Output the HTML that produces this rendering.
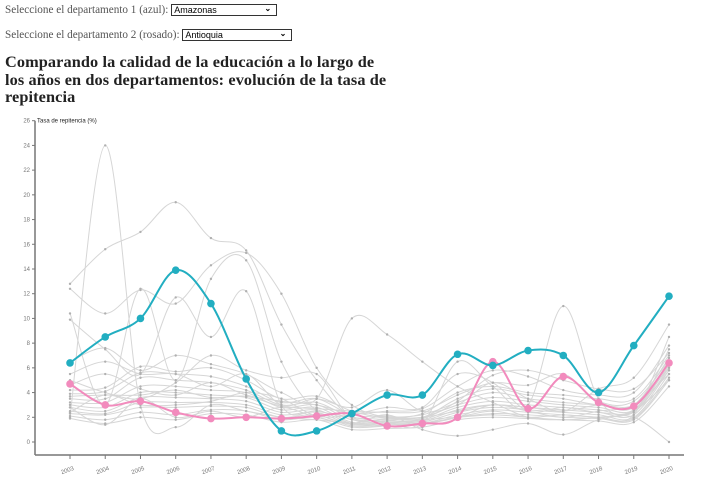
<!DOCTYPE html>
<html><head><meta charset="utf-8">
<style>
body{margin:0;width:702px;height:489px;background:#fff;overflow:hidden;position:relative;font-family:"Liberation Serif",serif;}
.lbl{position:absolute;left:5px;font-size:11.2px;color:#555;white-space:nowrap}
.sel{display:inline-block;vertical-align:middle;border:1px solid #333;height:10px;font:9px "Liberation Sans",sans-serif;color:#000;position:relative;line-height:10px;padding-left:2px;box-sizing:content-box}
.sel span.ar{position:absolute;right:5px;top:-1px;font-size:8px;font-weight:bold}
h1{position:absolute;left:5px;top:53px;margin:0;font-size:16.3px;line-height:17.5px;font-weight:bold;color:#222;white-space:nowrap;letter-spacing:0.1px}
svg{position:absolute;left:0;top:0}
</style></head><body>
<div class="lbl" style="top:4px">Seleccione el departamento 1 (azul): <span class="sel" style="width:102px">Amazonas<span class="ar">&#8964;</span></span></div>
<div class="lbl" style="top:29px">Seleccione el departamento 2 (rosado): <span class="sel" style="width:106px">Antioquia<span class="ar">&#8964;</span></span></div>
<h1>Comparando la calidad de la educación a lo largo de<br>los años en dos departamentos: evolución de la tasa de<br>repitencia</h1>
<svg id="chart" width="702" height="489"></svg>
<script>
const years=[2003,2004,2005,2006,2007,2008,2009,2010,2011,2012,2013,2014,2015,2016,2017,2018,2019,2020];
const yTicks=[0,2,4,6,8,10,12,14,16,18,20,22,24,26];
const blueValues=[6.4,8.5,10,13.9,11.2,5.1,0.9,0.9,2.3,3.8,3.8,7.1,6.2,7.4,7.0,4.0,7.8,11.8];
const pinkValues=[4.7,3.0,3.3,2.4,1.9,2.0,1.9,2.1,2.3,1.3,1.5,2.0,6.5,2.7,5.3,3.2,2.9,6.4];
const g1=[12.8,15.6,17.0,19.4,16.5,15.5,9.5,5.0,2.0,1.8,1.5,2.0,3.0,2.5,2.0,2.5,3.0,5.5];
const g2=[2.0,24.0,3.0,1.2,3.0,2.5,2.0,1.8,1.5,1.5,1.8,2.0,2.2,2.0,1.8,2.0,2.5,5.0];
const g3=[12.4,10.4,12.3,11.2,14.3,15.3,12.0,6.0,3.0,2.0,2.0,2.5,3.0,2.8,2.5,3.0,3.0,6.0];
const g4=[9.9,7.5,5.5,11.7,8.5,12.2,3.0,2.5,2.0,1.6,1.5,6.5,4.5,3.0,11.0,3.5,2.5,7.5];
const g5=[10.4,3.0,12.4,5.0,13.2,14.7,6.5,2.5,1.5,1.3,1.5,2.0,2.5,2.0,2.2,2.0,2.2,8.5];
const g6=[6.5,7.6,5.8,7.0,6.3,5.5,4.0,3.5,10.0,8.7,6.5,4.5,3.2,2.0,1.8,2.0,2.5,5.8];
const g7=[5.5,6.5,5.5,5.5,4.5,5.5,3.0,3.5,2.8,4.2,2.5,3.0,4.8,3.5,2.5,4.3,5.2,9.5];
const g8=[4.2,4.4,6.1,5.7,6.0,5.0,3.5,3.7,2.5,2.0,2.3,4.0,4.5,4.0,3.8,3.5,3.5,7.0];
const g9=[3.9,4.1,5.6,5.5,5.3,4.5,3.2,3.5,2.2,2.1,2.0,3.5,4.3,3.8,3.5,3.0,3.0,6.8];
const g10=[3.5,3.5,5.2,5.0,4.8,4.2,3.0,3.2,2.0,2.0,2.2,3.2,4.0,3.5,3.2,3.0,2.8,6.5];
const g11=[3.2,3.2,4.5,4.5,4.2,4.0,2.8,3.0,1.8,1.8,2.0,3.0,3.6,3.3,3.0,2.8,2.6,6.2];
const g12=[3.0,2.8,4.0,4.0,3.8,3.6,2.6,2.8,1.6,1.7,1.8,2.8,3.3,3.0,2.8,2.6,2.4,6.0];
const g13=[2.8,2.5,3.6,3.6,3.5,3.3,2.4,2.6,1.5,1.6,1.7,2.6,3.0,2.8,2.6,2.4,2.2,5.8];
const g14=[2.5,2.3,3.2,3.2,3.2,3.0,2.2,2.4,1.4,1.5,1.6,2.4,2.8,2.6,2.4,2.2,2.0,5.5];
const g15=[2.3,2.2,2.8,2.8,2.9,2.8,2.0,2.2,1.3,1.4,1.5,2.2,2.6,2.4,2.2,2.0,1.9,5.2];
const g16=[2.1,1.8,2.4,2.2,2.6,2.5,1.8,2.0,1.2,1.3,1.4,2.0,2.3,2.2,2.0,1.9,1.8,5.0];
const g17=[1.9,1.5,2.0,1.8,2.3,2.2,1.6,1.8,1.0,1.1,1.2,1.8,2.0,1.9,1.8,1.7,1.6,4.5];
const g18=[4.6,5.5,4.3,3.8,4.8,3.8,3.3,3.0,2.3,2.5,2.7,4.5,5.8,5.3,4.2,3.8,4.0,7.8];
const g19=[2.8,1.4,3.5,2.0,2.5,2.0,2.8,2.0,1.5,2.2,1.0,0.5,1.0,1.5,0.6,1.8,2.0,0.0];
const g20=[3.7,3.8,3.8,4.2,3.6,3.7,2.9,2.7,2.5,2.4,2.5,3.8,4.8,4.6,5.5,3.3,3.3,6.6];
const g21=[5.0,4.0,3.5,4.8,7.0,5.8,5.2,5.5,1.9,1.9,1.9,3.3,5.4,5.8,5.0,4.3,4.3,7.2];
const g22=[2.4,3.8,3.0,3.0,3.3,4.0,3.5,2.1,2.2,2.8,2.8,5.5,4.8,2.5,2.8,2.4,2.6,6.4];
const grayValues=[g1,g2,g3,g4,g5,g6,g7,g8,g9,g10,g11,g12,g13,g14,g15,g16,g17,g18,g19,g20,g21,g22];

const NS="http://www.w3.org/2000/svg";
const svg=document.getElementById('chart');
const x0=70,x1=669,yZero=442,yTop=120.7;
function xs(i){return x0+(x1-x0)*(years[i]-years[0])/(years[years.length-1]-years[0]);}
function ys(v){return yZero-(yZero-yTop)*v/26;}
function mk(tag,attrs){const e=document.createElementNS(NS,tag);for(const k in attrs)e.setAttribute(k,attrs[k]);svg.appendChild(e);return e;}
function pathFor(vals){
  const p=vals.map((v,i)=>[xs(i),ys(v)]);
  let d='M'+p[0][0]+','+p[0][1];
  for(let i=0;i<p.length-1;i++){
    const a=p[Math.max(i-1,0)],b=p[i],c=p[i+1],e=p[Math.min(i+2,p.length-1)];
    const c1=[b[0]+(c[0]-a[0])/6,b[1]+(c[1]-a[1])/6],c2=[c[0]-(e[0]-b[0])/6,c[1]-(e[1]-b[1])/6];
    d+=' C'+c1+' '+c2+' '+c;
  }
  return d;
}
const ya=mk('line',{x1:35,x2:35,y1:yTop,y2:455,stroke:'#777','stroke-width':1.5});


yTicks.forEach(t=>{
  const l=mk('line',{x1:32,x2:35,y1:ys(t),y2:ys(t),stroke:'#777'});
  
  
  const tx=mk('text',{x:30,y:ys(t)+2,'text-anchor':'end','font-size':'6px','font-family':'Liberation Sans,sans-serif',fill:'#777'});
  tx.textContent=t;
  
  
});
const yt=mk('text',{x:37,y:yTop+2,'font-size':'6px','font-family':'Liberation Sans,sans-serif',fill:'#222'});
yt.textContent='Tasa de repitencia (%)';


const xa=mk('line',{x1:35,x2:684,y1:455,y2:455,stroke:'#777','stroke-width':1.5});


years.forEach((yr,i)=>{
  const l=mk('line',{x1:xs(i),x2:xs(i),y1:455,y2:459,stroke:'#777'});
  
  
  const tx=mk('text',{x:xs(i)-2,y:472,'text-anchor':'middle','font-size':'6px','font-family':'Liberation Sans,sans-serif',fill:'#777',transform:'rotate(-20 '+(xs(i)-2)+' 472)'});
  tx.textContent=yr;
  
  
});
grayValues.forEach(vals=>{
  const p=mk('path',{d:pathFor(vals),fill:'none',stroke:'#d6d6d6','stroke-width':1});
  
  
  vals.forEach((v,i)=>{
    const c=mk('circle',{cx:xs(i),cy:ys(v),r:1.2,fill:'#b0b0b0'});
    
    
  });
});
function series(vals,color,name){
  const p=mk('path',{d:pathFor(vals),fill:'none',stroke:color,'stroke-width':2});
  
  
  vals.forEach((v,i)=>{
    const c=mk('circle',{cx:xs(i),cy:ys(v),r:3.8,fill:color});
    
    
  });
}
series(pinkValues,'#f28bbd','antioquia');
series(blueValues,'#22aec1','amazonas');
</script>
</body></html>
